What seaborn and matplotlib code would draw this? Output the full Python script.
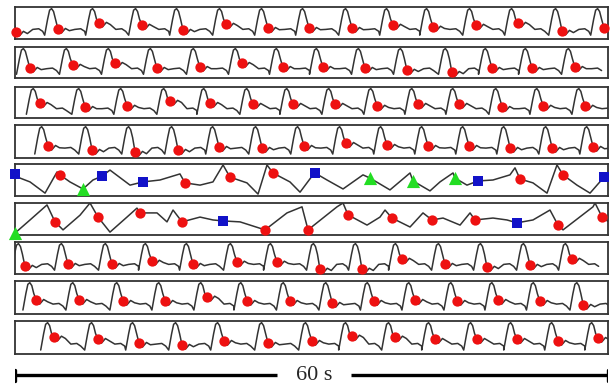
import numpy as np
import matplotlib
matplotlib.use("Agg")
import matplotlib.pyplot as plt
import seaborn as sns

sns.set_style("white")

# red dot (dicrotic notch) times in s and levels (0 = strip bottom, 1 = top)
row1_t = [0.1, 4.35, 8.5, 12.85, 17.0, 21.35, 25.6, 29.75, 34.1, 38.25, 42.3, 46.65, 50.9, 55.35, 59.6]
row1_v = [0.22, 0.31, 0.5, 0.44, 0.28, 0.47, 0.34, 0.34, 0.34, 0.44, 0.38, 0.44, 0.5, 0.25, 0.34]
row2_t = [1.5, 5.85, 10.1, 14.35, 18.7, 22.95, 27.1, 31.15, 35.4, 39.65, 44.2, 48.25, 52.3, 56.65]
row2_v = [0.32, 0.42, 0.48, 0.32, 0.35, 0.48, 0.35, 0.35, 0.32, 0.26, 0.19, 0.32, 0.32, 0.35]
row3_t = [2.5, 7.1, 11.35, 15.7, 19.75, 24.1, 28.15, 32.4, 36.65, 40.8, 44.95, 49.3, 53.45, 57.7]
row3_v = [0.48, 0.35, 0.39, 0.55, 0.48, 0.45, 0.45, 0.45, 0.39, 0.45, 0.45, 0.35, 0.39, 0.39]
row4_t = [3.35, 7.8, 12.15, 16.5, 20.65, 25.0, 29.25, 33.5, 37.65, 41.8, 45.95, 50.1, 54.35, 58.5]
row4_v = [0.36, 0.24, 0.18, 0.24, 0.33, 0.30, 0.36, 0.45, 0.39, 0.36, 0.36, 0.30, 0.30, 0.33]
row7_t = [1.0, 5.35, 9.8, 13.85, 18.0, 22.45, 26.5, 30.85, 35.1, 39.15, 43.5, 47.75, 52.1, 56.35]
row7_v = [0.25, 0.31, 0.31, 0.41, 0.31, 0.38, 0.38, 0.16, 0.16, 0.47, 0.31, 0.22, 0.28, 0.47]
row8_t = [2.15, 6.5, 10.95, 15.2, 19.45, 23.5, 27.8, 32.1, 36.3, 40.5, 44.75, 48.9, 53.1, 57.5]
row8_v = [0.42, 0.42, 0.39, 0.39, 0.52, 0.39, 0.39, 0.33, 0.39, 0.42, 0.39, 0.42, 0.39, 0.27]
row9_t = [3.95, 8.4, 12.55, 16.9, 21.15, 25.6, 30.05, 34.1, 38.45, 42.5, 46.75, 50.8, 54.95, 59.0]
row9_v = [0.52, 0.45, 0.33, 0.27, 0.39, 0.33, 0.39, 0.55, 0.52, 0.45, 0.45, 0.45, 0.39, 0.48]

# one regular beat (times relative to the red dot)
upstroke_dt = [-1.35, -1.05, -0.85, -0.65, -0.45, -0.25]
upstroke_v = [0.12, 0.62, 0.90, 0.95, 0.86, 0.62]
notch_dt = [0.0, 0.35, 0.75, 1.15]
notch_dv = [0.0, -0.12, 0.02, -0.05]
diastole_dt = [1.7, 2.3, 2.7]
diastole_v = [0.30, 0.32, 0.24]

# irregular strips (5 and 6): full trace
row5_t = [0.0, 0.51, 1.52, 3.04, 4.25, 4.55, 5.56, 6.88, 7.89, 8.8,
          9.61, 11.64, 12.95, 14.67, 16.69, 17.2, 18.72, 20.03, 21.05, 21.75,
          23.47, 24.59, 25.5, 26.1, 27.82, 28.84, 30.05, 30.35, 31.57, 33.19,
          35.21, 35.92, 37.94, 39.97, 40.27, 41.99, 43.0, 44.32, 44.52, 45.73,
          46.85, 48.36, 50.08, 50.59, 51.1, 52.41, 53.83, 54.84, 55.45, 56.86,
          58.18, 59.6, 60.0]
row5_v = [0.69, 0.56, 0.44, 0.09, 0.75, 0.66, 0.44, 0.22, 0.5, 0.62,
          0.81, 0.34, 0.44, 0.5, 0.69, 0.41, 0.34, 0.44, 0.97, 0.59,
          0.41, 0.06, 0.97, 0.72, 0.44, 0.12, 0.62, 0.72, 0.5, 0.22,
          0.66, 0.56, 0.19, 0.72, 0.47, 0.16, 0.44, 0.72, 0.56, 0.34,
          0.47, 0.5, 0.66, 0.88, 0.53, 0.41, 0.09, 0.97, 0.66, 0.34,
          0.09, 0.59, 0.69]
row6_t = [0.0, 1.52, 3.24, 4.05, 4.86, 6.58, 7.59, 8.4, 9.61, 11.33,
          12.34, 12.65, 14.37, 15.38, 15.99, 16.9, 18.72, 20.03, 21.05, 22.77,
          25.3, 27.52, 29.04, 29.65, 32.58, 33.19, 33.69, 35.62, 36.93, 37.44,
          38.14, 39.97, 41.28, 42.19, 43.31, 45.03, 46.04, 46.54, 48.36, 49.78,
          50.79, 52.41, 54.13, 54.94, 55.45, 58.48, 58.69, 59.4, 60.2]
row6_v = [0.06, 0.47, 0.94, 0.41, 0.16, 0.62, 1.0, 0.56, 0.09, 0.56,
          0.84, 0.69, 0.69, 0.41, 0.78, 0.41, 0.56, 0.47, 0.44, 0.41,
          0.16, 0.69, 0.88, 0.16, 0.88, 1.0, 0.63, 0.31, 0.56, 0.78,
          0.53, 0.25, 0.69, 0.47, 0.53, 0.31, 0.69, 0.47, 0.53, 0.47,
          0.38, 0.47, 0.78, 0.31, 0.16, 0.88, 1.0, 0.56, 0.38]

row5_red_t = [4.55, 17.2, 21.75, 26.1, 51.1, 55.45]
row5_red_v = [0.66, 0.41, 0.59, 0.72, 0.53, 0.66]
row5_blue_t = [0.0, 8.8, 12.95, 30.35, 46.85, 59.6]
row5_blue_v = [0.69, 0.62, 0.44, 0.72, 0.47, 0.59]
row5_green_t = [6.88, 35.92, 40.27, 44.52]
row5_green_v = [0.22, 0.56, 0.47, 0.56]

row6_red_t = [4.05, 8.4, 12.65, 16.9, 25.3, 29.65, 33.69, 38.14, 42.19, 46.54, 54.94, 59.4]
row6_red_v = [0.41, 0.56, 0.69, 0.41, 0.16, 0.16, 0.63, 0.53, 0.47, 0.47, 0.31, 0.56]
row6_blue_t = [21.05, 50.79]
row6_blue_v = [0.44, 0.38]
row6_green_t = [0.0]
row6_green_v = [0.06]

scale_len = 60
scale_label = "60 s"


def beat_trace(times, levels):
    tt, vv = [], []
    for t, d in zip(times, levels):
        tt += [t + dt for dt in upstroke_dt]
        vv += upstroke_v
        tt += [t + dt for dt in notch_dt]
        vv += [d + dv for dv in notch_dv]
        tt += [t + dt for dt in diastole_dt]
        vv += diastole_v
    return tt, vv


rows = []
for t, v in [(row1_t, row1_v), (row2_t, row2_v), (row3_t, row3_v), (row4_t, row4_v)]:
    tt, vv = beat_trace(t, v)
    rows.append(dict(line=(tt, vv), red=(t, v)))
rows.append(dict(line=(row5_t, row5_v), red=(row5_red_t, row5_red_v),
                 blue=(row5_blue_t, row5_blue_v), green=(row5_green_t, row5_green_v)))
rows.append(dict(line=(row6_t, row6_v), red=(row6_red_t, row6_red_v),
                 blue=(row6_blue_t, row6_blue_v), green=(row6_green_t, row6_green_v)))
for t, v in [(row7_t, row7_v), (row8_t, row8_v), (row9_t, row9_v)]:
    tt, vv = beat_trace(t, v)
    rows.append(dict(line=(tt, vv), red=(t, v)))

W, H = 616, 387
row_px = [(7, 39), (47, 78), (87, 118), (125, 158), (164, 196),
          (203, 235), (242, 274), (281, 314), (321, 354)]
left_px, right_px = 15, 608

fig = plt.figure(figsize=(W / 100, H / 100), dpi=100)

for r, (top, bot) in zip(rows, row_px):
    ax = fig.add_axes([left_px / W, 1 - bot / H, (right_px - left_px) / W, (bot - top) / H])
    sns.lineplot(x=r["line"][0], y=r["line"][1], ax=ax, color="#333333",
                 linewidth=1.1, estimator=None, sort=False)
    sns.scatterplot(x=r["red"][0], y=r["red"][1], ax=ax, color="#ee1111", marker="o",
                    s=55, linewidth=0, clip_on=False, zorder=5)
    if "blue" in r:
        sns.scatterplot(x=r["blue"][0], y=r["blue"][1], ax=ax, color="#1212c8", marker="s",
                        s=60, linewidth=0, clip_on=False, zorder=5)
        sns.scatterplot(x=r["green"][0], y=r["green"][1], ax=ax, color="#22dd22", marker="^",
                        s=90, linewidth=0, clip_on=False, zorder=5)
    ax.set_xlim(0, 60)
    ax.set_ylim(0, 1)
    ax.set_xticks([])
    ax.set_yticks([])
    ax.set_xlabel("")
    ax.set_ylabel("")
    for sp in ax.spines.values():
        sp.set_color("#333333")
        sp.set_linewidth(1.3)

# 60 s scale bar
sax = fig.add_axes([left_px / W, 1 - 385 / H, (right_px - left_px) / W, 20 / H])
sax.set_xlim(0, 60)
sax.set_ylim(-1, 1)
sax.axis("off")
sax.plot([0, 26.5], [0, 0], color="black", lw=2.4, solid_capstyle="butt")
sax.plot([34.0, scale_len], [0, 0], color="black", lw=2.4, solid_capstyle="butt")
sax.plot([0, 0], [-0.55, 0.55], color="black", lw=2.4)
sax.plot([scale_len, scale_len], [-0.55, 0.55], color="black", lw=2.4)
sax.text(30.3, 0, scale_label, ha="center", va="center", fontsize=16,
         family="Liberation Serif")

fig.savefig("out.png", dpi=100)
